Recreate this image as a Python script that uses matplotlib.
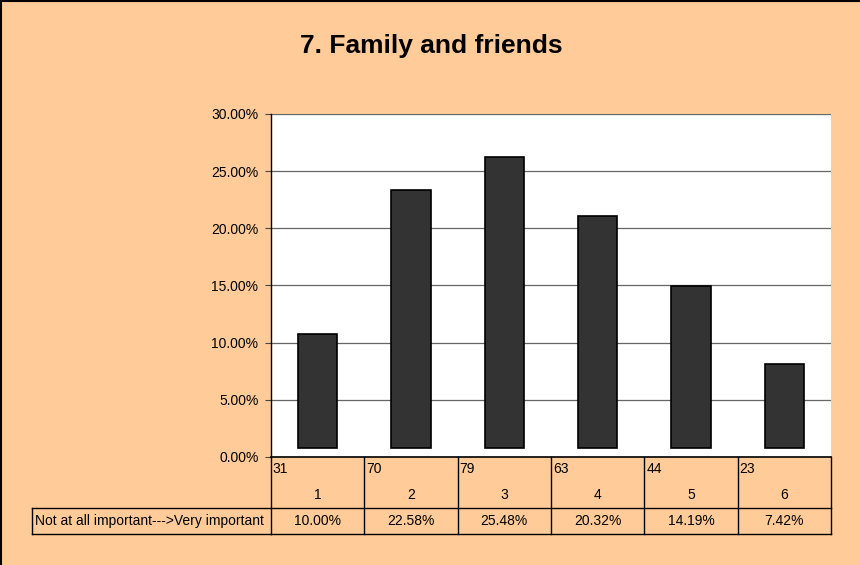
import matplotlib.pyplot as plt
from matplotlib.lines import Line2D
import matplotlib.transforms as mtransforms

# survey answers, 1 = not at all important ... 6 = very important
categories = ["1", "2", "3", "4", "5", "6"]
counts = [31, 70, 79, 63, 44, 23]
percents = [10.00, 22.58, 25.48, 20.32, 14.19, 7.42]
pct_labels = ["10.00%", "22.58%", "25.48%", "20.32%", "14.19%", "7.42%"]
row_label = "Not at all important--->Very important"
yticks = [0, 5, 10, 15, 20, 25, 30]

plt.rcParams['font.family'] = ['Liberation Sans', 'DejaVu Sans']

bg = '#FFCC99'
fs = 10
fig = plt.figure(figsize=(8.6, 5.65), dpi=100, facecolor=bg)
ax = fig.add_axes([0.3151, 0.1912, 0.6512, 0.6071])
ax.set_facecolor('white')

x = list(range(len(categories)))
# excel draws the bars lifted a little off the floor
ax.bar(x, percents, bottom=0.75, width=0.42, color='#333333',
       edgecolor='black', linewidth=1.2, zorder=3)

ax.set_xlim(-0.5, len(categories) - 0.5)
ax.set_ylim(0, 30)
ax.set_yticks(yticks)
ax.set_yticklabels(["%.2f%%" % v for v in yticks], fontsize=fs)
ax.yaxis.grid(True, color='#666666', linewidth=0.9, zorder=0)
ax.set_xticks([])
ax.tick_params(axis='y', length=4, width=0.8, pad=5, color='#444444')
for s in ['top', 'right']:
    ax.spines[s].set_visible(False)
ax.spines['left'].set_linewidth(1.0)
ax.spines['bottom'].set_linewidth(1.2)

# data table under the chart
tr = mtransforms.blended_transform_factory(ax.transData, ax.transAxes)
r1, r2 = -0.1487, -0.2245
lw = 1.0
def hline(x0, x1, y, trans):
    ax.add_line(Line2D([x0, x1], [y, y], transform=trans, color='black',
                       lw=lw, clip_on=False))
def vline(xv, y0, y1, trans):
    ax.add_line(Line2D([xv, xv], [y0, y1], transform=trans, color='black',
                       lw=lw, clip_on=False))

hline(-0.5, 5.5, r1, tr)
hline(-0.5, 5.5, r2, tr)
for i in range(len(categories) + 1):
    vline(i - 0.5, 0, r2, tr)
# row label box
hline(-0.4268, 0, r1, ax.transAxes)
hline(-0.4268, 0, r2, ax.transAxes)
vline(-0.4268, r1, r2, ax.transAxes)

for i in x:
    ax.text(i - 0.48, -0.035, str(counts[i]), transform=tr, fontsize=fs,
            ha='left', va='center')
    ax.text(i, -0.11, categories[i], transform=tr, fontsize=fs,
            ha='center', va='center')
    ax.text(i, (r1 + r2) / 2, pct_labels[i], transform=tr, fontsize=fs,
            ha='center', va='center')
ax.text(-0.422, (r1 + r2) / 2, row_label, transform=ax.transAxes,
        fontsize=fs, ha='left', va='center')

fig.text(0.502, 0.918, "7. Family and friends", ha='center', va='center',
         fontsize=19, fontweight='bold')

# frame on left and top edge like the screenshot
fig.add_artist(Line2D([0.001, 0.001], [0, 1], transform=fig.transFigure,
                      color='black', lw=1.5))
fig.add_artist(Line2D([0, 1], [0.999, 0.999], transform=fig.transFigure,
                      color='black', lw=1.5))

fig.savefig('out.png', dpi=100, facecolor=bg)
